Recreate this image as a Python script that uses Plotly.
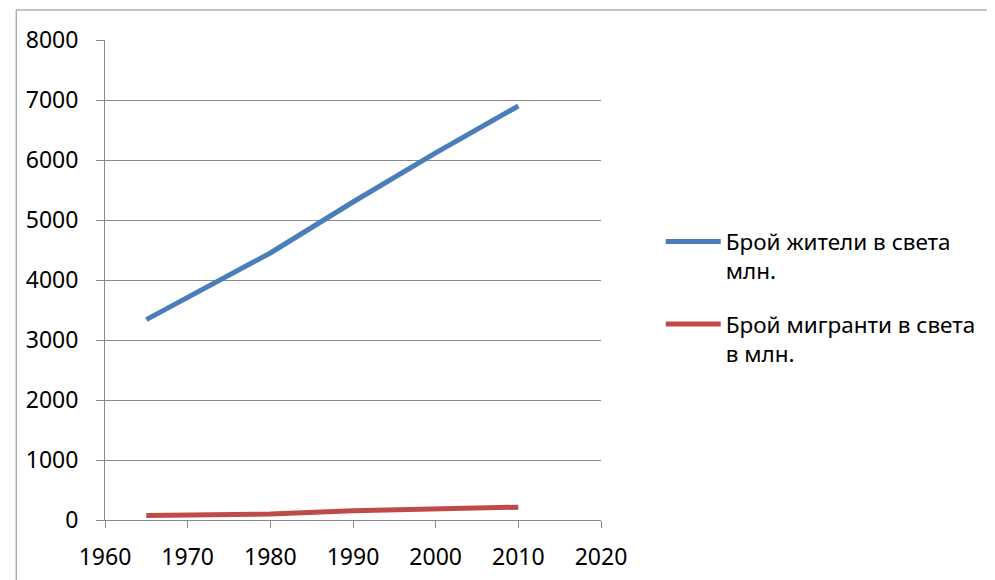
import plotly.graph_objects as go

years = [1965, 1975, 1980, 1990, 2000, 2010]
population = [3340, 4070, 4450, 5300, 6120, 6900]
migrants = [75, 84, 100, 155, 178, 214]
name_pop = "Брой жители в света<br>млн."
name_mig = "Брой мигранти в света<br>в млн."

FONT = "Noto Sans"
fig = go.Figure()
fig.add_trace(go.Scatter(x=years, y=population, mode="lines", name=name_pop,
                         legendgroup="a",
                         line=dict(color="#4a7ebb", width=5)))
fig.add_trace(go.Scatter(x=years, y=migrants, mode="lines", name=name_mig,
                         legendgroup="b",
                         line=dict(color="#be4b48", width=5)))

gray = "#898989"
fig.update_layout(
    width=995, height=580,
    margin=dict(l=97, r=402, t=32, b=68),
    paper_bgcolor="white", plot_bgcolor="white",
    font=dict(family=FONT, size=23, color="black"),
    showlegend=True,
    legend=dict(xref="container", yref="container", x=0.656, y=0.634,
                xanchor="left", yanchor="top", valign="top",
                itemwidth=55, tracegroupgap=21,
                font=dict(family=FONT, size=22.5, color="black")),
    xaxis=dict(range=[1960, 2020], dtick=10, tick0=1960, showgrid=False,
               showline=True, linecolor=gray, linewidth=1,
               ticks="outside", ticklen=7, tickcolor=gray,
               ticklabelstandoff=9,
               zeroline=False, fixedrange=True),
    yaxis=dict(range=[0, 8000], dtick=1000, showgrid=True, gridcolor=gray,
               gridwidth=1, showline=True, linecolor=gray, linewidth=1,
               ticks="outside", ticklen=8, tickcolor=gray, zeroline=False,
               ticklabelstandoff=13, fixedrange=True),
    shapes=[dict(type="rect", xref="paper", yref="paper",
                 x0=-0.179, x1=1.85, y0=-0.15, y1=1.0625,
                 line=dict(color=gray, width=1), layer="below")],
)
fig.write_html("out.html")
